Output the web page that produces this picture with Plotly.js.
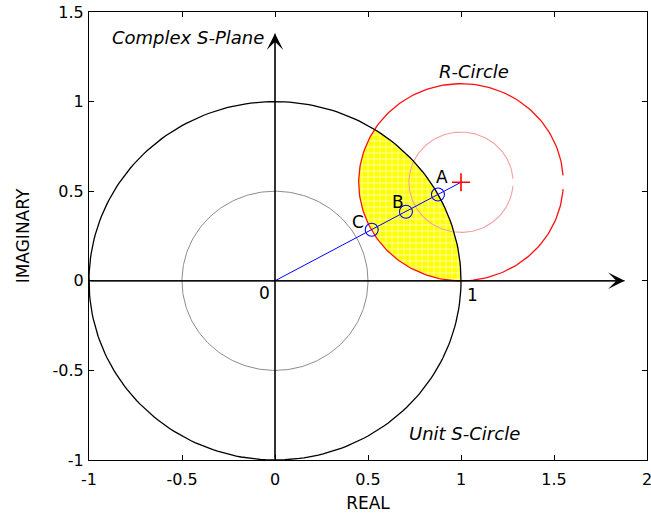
<!DOCTYPE html>
<html>
<head>
<meta charset="utf-8">
<script src="https://cdn.plot.ly/plotly-3.0.1.min.js"></script>
<style>html,body{margin:0;padding:0;background:#fff;}#chart{width:651px;height:513px;}</style>
</head>
<body>
<div id="chart"></div>
<script>
// ---- data ----
const circleNames   = ['Unit S-Circle', 'Half circle', 'R-Circle', 'Inner R-Circle'];
const circleCX      = [0, 0, 1.0, 1.0];
const circleCY      = [0, 0, 0.55, 0.55];
const circleR       = [1.0, 0.5, 0.55, 0.28];
const circleGapDeg  = [0, 0, 4, 4];           // small opening at angle 0 (as in the original)
const circleColors  = ['#000000', '#8c8c8c', '#ff1010', '#f4a0a0'];
const circleWidths  = [1.3, 1, 1.3, 1.1];

const pointLabels = ['A', 'B', 'C'];
const pointX      = [0.876, 0.704, 0.52];
const pointY      = [0.482, 0.385, 0.285];
const labelX      = [0.90, 0.66, 0.445];
const labelY      = [0.58, 0.44, 0.33];

const rCenterX = [1.0];
const rCenterY = [0.55];

const realAxisEnd = 1.88;
const imagAxisEnd = 1.38;

const xTickVals = [-1, -0.5, 0, 0.5, 1, 1.5, 2];
const xTickText = ['-1', '-0.5', '0', '0.5', '1', '1.5', '2'];
const yTickVals = [-1, -0.5, 0, 0.5, 1, 1.5];
const yTickText = ['-1', '-0.5', '0', '0.5', '1', '1.5'];

// ---- geometry helpers ----
function arc(cx, cy, r, a0, a1, n) {
  const xs = [], ys = [];
  for (let i = 0; i <= n; i++) {
    const a = a0 + (a1 - a0) * i / n;
    xs.push(cx + r * Math.cos(a));
    ys.push(cy + r * Math.sin(a));
  }
  return [xs, ys];
}

const traces = [];

// overlap region of the unit disk and the R-circle disk
(function () {
  const cx = circleCX[2], cy = circleCY[2], r = circleR[2];
  const k = 1 + cx * cx + cy * cy - r * r;
  const A = (cy * cy) / (cx * cx) + 1;
  const B = -k * cy / (cx * cx);
  const C = (k * k) / (4 * cx * cx) - 1;
  const disc = Math.sqrt(B * B - 4 * A * C);
  const y1 = Math.max((-B + disc) / (2 * A), (-B - disc) / (2 * A));
  const x1 = (k - 2 * cy * y1) / (2 * cx);
  const aUnit = Math.atan2(y1, x1);
  const [ux, uy] = arc(0, 0, 1, 0, aUnit, 60);
  const aR = Math.atan2(y1 - cy, x1 - cx);
  const [rx, ry] = arc(cx, cy, r, aR, 1.5 * Math.PI, 80);
  traces.push({
    x: ux.concat(rx), y: uy.concat(ry),
    mode: 'lines', fill: 'toself',
    line: {width: 0, color: 'rgba(0,0,0,0)'},
    fillcolor: '#ffff00',
    fillpattern: {shape: '+', fgcolor: '#ffffff', bgcolor: '#ffff00', size: 6, solidity: 0.2, fillmode: 'replace'},
    hoverinfo: 'skip', showlegend: false
  });
})();

// circles
[1, 3, 2, 0].forEach(i => {
  const g = circleGapDeg[i] * Math.PI / 180;
  const [xs, ys] = arc(circleCX[i], circleCY[i], circleR[i], g, 2 * Math.PI - g, 240);
  traces.push({
    x: xs, y: ys, mode: 'lines', name: circleNames[i],
    line: {color: circleColors[i], width: circleWidths[i]},
    hoverinfo: 'skip', showlegend: false
  });
});

// coordinate axes (arrow heads drawn as annotations)
traces.push({x: [-1, realAxisEnd], y: [0, 0], mode: 'lines', line: {color: '#000', width: 1}, hoverinfo: 'skip', showlegend: false});
traces.push({x: [0, 0], y: [-1, imagAxisEnd], mode: 'lines', line: {color: '#000', width: 1}, hoverinfo: 'skip', showlegend: false});

// ray from origin to R-circle center
traces.push({x: [0, rCenterX[0]], y: [0, rCenterY[0]], mode: 'lines', line: {color: '#0000ff', width: 1}, hoverinfo: 'skip', showlegend: false});

// A, B, C markers
traces.push({
  x: pointX, y: pointY, mode: 'markers',
  marker: {symbol: 'circle-open', size: 13, color: '#0000ff', line: {width: 1.1, color: '#0000ff'}},
  hoverinfo: 'skip', showlegend: false
});

// R-circle center
traces.push({
  x: rCenterX, y: rCenterY, mode: 'markers',
  marker: {symbol: 'cross-thin', size: 13, line: {width: 1.6, color: '#ff0000'}, color: '#ff0000'},
  hoverinfo: 'skip', showlegend: false
});

const FONT = 'DejaVu Sans, Arial, sans-serif';
const textFont = {family: FONT, size: 17, color: '#000'};
const italicFont = {family: FONT, size: 18, color: '#000', style: 'italic'};

const annotations = [
  {x: realAxisEnd, y: 0, ax: -1, ay: 0, axref: 'x', ayref: 'y', xref: 'x', yref: 'y',
   showarrow: true, arrowhead: 3, arrowsize: 2.3, arrowwidth: 1.2, arrowcolor: '#000', text: ''},
  {x: 0, y: imagAxisEnd, ax: 0, ay: -1, axref: 'x', ayref: 'y', xref: 'x', yref: 'y',
   showarrow: true, arrowhead: 3, arrowsize: 2.3, arrowwidth: 1.2, arrowcolor: '#000', text: ''},
  {x: -0.47, y: 1.36, xref: 'x', yref: 'y', text: 'Complex S-Plane', showarrow: false, font: italicFont},
  {x: 1.07, y: 1.168, xref: 'x', yref: 'y', text: 'R-Circle', showarrow: false, font: italicFont},
  {x: 1.02, y: -0.85, xref: 'x', yref: 'y', text: 'Unit S-Circle', showarrow: false, font: italicFont},
  {x: -0.054, y: -0.067, xref: 'x', yref: 'y', text: '0', showarrow: false, font: textFont},
  {x: 1.06, y: -0.078, xref: 'x', yref: 'y', text: '1', showarrow: false, font: textFont}
];
pointLabels.forEach((t, i) => {
  annotations.push({x: labelX[i], y: labelY[i], xref: 'x', yref: 'y', text: t, showarrow: false, font: textFont});
});

const axisCommon = {
  showgrid: false, zeroline: false, showline: true, linecolor: '#000', linewidth: 1,
  mirror: 'ticks', ticks: 'inside', ticklen: 5, tickwidth: 1, tickcolor: '#000',
  tickfont: {family: FONT, size: 16, color: '#000'},
  tickmode: 'array', fixedrange: true, ticklabeloverflow: 'allow'
};

const layout = {
  width: 651, height: 513,
  margin: {l: 89, r: 4, t: 12, b: 53},
  paper_bgcolor: '#fff', plot_bgcolor: '#fff',
  showlegend: false,
  xaxis: Object.assign({}, axisCommon, {
    range: [-1, 2], tickvals: xTickVals, ticktext: xTickText, ticklabelstandoff: 5,
    title: {text: 'REAL', font: {family: FONT, size: 17, color: '#000'}, standoff: 8}
  }),
  yaxis: Object.assign({}, axisCommon, {
    range: [-1, 1.5], tickvals: yTickVals, ticktext: yTickText, ticklabelstandoff: 1,
    title: {text: 'IMAGINARY', font: {family: FONT, size: 17, color: '#000'}, standoff: 18}
  }),
  annotations: annotations
};

Plotly.newPlot('chart', traces, layout, {staticPlot: true, displayModeBar: false});
</script>
</body>
</html>
